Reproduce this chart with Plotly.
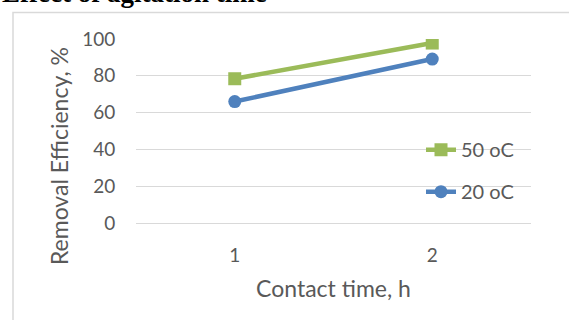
import plotly.graph_objects as go

categories = ["1", "2"]
series_names = ["50 oC", "20 oC"]
values_50 = [78.4, 97.8]
values_20 = [66.0, 89.1]
y_ticks = [0, 20, 40, 60, 80, 100]

W, H = 569, 320
L, R, T, B = 136, 38, 39.3, 97.3
pw, ph = W - L - R, H - T - B

def px(x):
    return (x - L) / pw

def py(y):
    return (H - B - y) / ph

FONT = "Lato"
GRAY = "#595959"

fig = go.Figure()
fig.add_trace(go.Scatter(
    x=categories, y=values_50, name=series_names[0], mode="lines+markers",
    line=dict(color="#9BBB59", width=4.5),
    marker=dict(symbol="square", size=13, color="#9BBB59"),
    legendgroup="a",
))
fig.add_trace(go.Scatter(
    x=categories, y=values_20, name=series_names[1], mode="lines+markers",
    line=dict(color="#4F81BD", width=4.5),
    marker=dict(symbol="circle", size=13, color="#4F81BD"),
    legendgroup="b",
))

fig.update_layout(
    width=W, height=H,
    margin=dict(l=L, r=R, t=T, b=B, pad=0),
    paper_bgcolor="white", plot_bgcolor="white",
    font=dict(family=FONT, color=GRAY, size=19),
    showlegend=True,
    legend=dict(
        x=px(421), y=py(170.5), xanchor="left", yanchor="middle",
        bgcolor="rgba(0,0,0,0)", traceorder="grouped",
        tracegroupgap=13, font=dict(size=20, color=GRAY, family=FONT),
    ),
    xaxis=dict(
        type="category", range=[-0.5, 1.5], showgrid=False, zeroline=False,
        showline=False, ticks="outside", ticklen=15, tickcolor="rgba(0,0,0,0)",
        tickfont=dict(size=19, color=GRAY, family=FONT),
        title=dict(text="Contact time, h", font=dict(size=23, color=GRAY, family=FONT), standoff=16),
    ),
    yaxis=dict(
        range=[0, 100], tickvals=y_ticks, showgrid=True, gridcolor="#D9D9D9", gridwidth=1.3,
        zeroline=True, zerolinecolor="#D9D9D9", zerolinewidth=1.3, showline=False,
        ticks="outside", ticklen=16, tickcolor="rgba(0,0,0,0)",
        tickfont=dict(size=19, color=GRAY, family=FONT),
    ),
    shapes=[dict(
        type="rect", xref="paper", yref="paper",
        x0=px(13), x1=px(600), y0=py(13), y1=py(360),
        line=dict(color="#D9D9D9", width=1.5), fillcolor="rgba(0,0,0,0)", layer="below",
    )],
    annotations=[
        dict(
            text="<b>Effect of agitation time</b>", xref="paper", yref="paper",
            x=px(0), y=py(10.5), xanchor="left", yanchor="bottom", showarrow=False,
            font=dict(family="Liberation Serif", size=27, color="black"),
        ),
        dict(
            text="Removal Efficiency, %", xref="paper", yref="paper",
            x=px(59), y=py(156), xanchor="center", yanchor="middle", showarrow=False,
            textangle=-90, font=dict(family=FONT, size=23, color=GRAY),
        ),
    ],
)

fig.write_html("out.html")
